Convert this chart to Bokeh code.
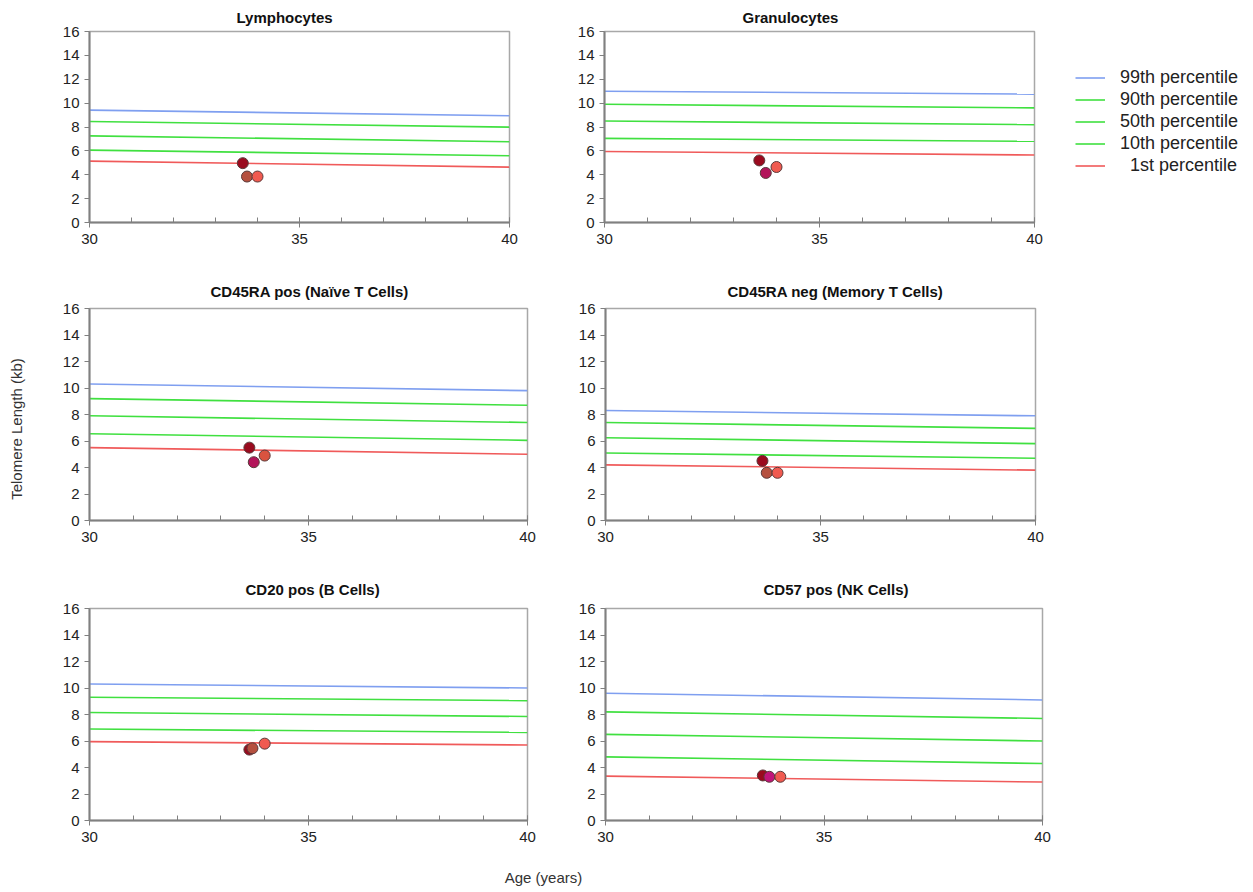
from bokeh.plotting import figure
from bokeh.layouts import column, row
from bokeh.models import Range1d, Legend, LegendItem, Label, FixedTicker
from bokeh.embed import file_html
from bokeh.resources import INLINE

FONT = "Liberation Sans"

# Cell populations, one panel each
panel_titles = [
    "Lymphocytes",
    "Granulocytes",
    "CD45RA pos (Naïve T Cells)",
    "CD45RA neg (Memory T Cells)",
    "CD20 pos (B Cells)",
    "CD57 pos (NK Cells)",
]

# Age span of the reference percentile lines (years)
line_ages = [30, 40]

# Percentile telomere lengths (kb) at age 30 and age 40, per panel
p99_at30 = [9.41, 11.00, 10.30, 8.30, 10.30, 9.60]
p99_at40 = [8.94, 10.75, 9.80, 7.90, 10.00, 9.10]
p90_at30 = [8.46, 9.90, 9.20, 7.40, 9.30, 8.20]
p90_at40 = [7.99, 9.60, 8.70, 6.95, 9.05, 7.70]
p50_at30 = [7.26, 8.50, 7.90, 6.25, 8.15, 6.50]
p50_at40 = [6.76, 8.20, 7.40, 5.80, 7.85, 6.00]
p10_at30 = [6.06, 7.05, 6.55, 5.10, 6.90, 4.80]
p10_at40 = [5.59, 6.80, 6.05, 4.70, 6.65, 4.30]
p1_at30 = [5.14, 5.95, 5.50, 4.20, 5.95, 3.35]
p1_at40 = [4.64, 5.65, 5.00, 3.80, 5.70, 2.90]

percentile_labels = ["99th percentile", "90th percentile", "50th percentile",
                     "10th percentile", "\u00a0\u00a01st percentile"]
percentile_colors = ["#7f9ff0", "#40e040", "#40e040", "#40e040", "#f05a5a"]
percentile_at30 = [p99_at30, p90_at30, p50_at30, p10_at30, p1_at30]
percentile_at40 = [p99_at40, p90_at40, p50_at40, p10_at40, p1_at40]

# Patient measurements: age at sampling and telomere length (kb), per panel
sample1_age = [33.65, 33.60, 33.65, 33.65, 33.65, 33.60]
sample1_tl = [4.97, 5.20, 5.50, 4.50, 5.35, 3.40]
sample2_age = [33.75, 33.75, 33.75, 33.75, 33.72, 33.75]
sample2_tl = [3.85, 4.15, 4.40, 3.60, 5.45, 3.30]
sample3_age = [34.00, 34.00, 34.00, 34.00, 34.00, 34.00]
sample3_tl = [3.85, 4.65, 4.90, 3.60, 5.80, 3.30]

sample1_color = "#9a0a1e"
sample2_colors = ["#b5503f", "#b3145a", "#b3145a", "#b5503f", "#b5503f", "#c0157a"]
sample3_colors = ["#f05a50", "#f05a50", "#d9533f", "#f05a50", "#f05a50", "#f05a50"]

# (width, height, border left, right, top, bottom) for each panel
geometry = [
    (500, 265, 49, 31, 31, 43),
    (524, 265, 64, 30, 31, 43),
    (520, 300, 49, 33, 43, 45),
    (693, 300, 45, 218, 43, 45),
    (520, 292, 49, 33, 43, 37),
    (693, 292, 45, 211, 43, 37),
]
# Title placement: offset from the frame's left edge and gap above the frame (px)
title_offset = [147, 138, 121, 122, 156, 158]
title_standoff = [11, 11, 18, 18, 21, 21]


def make_panel(i):
    w, h, bl, br, bt, bb = geometry[i]
    p = figure(width=w, height=h, x_range=Range1d(30, 40), y_range=Range1d(0, 16),
               output_backend="svg", toolbar_location=None,
               min_border_left=bl, min_border_right=br,
               min_border_top=bt, min_border_bottom=bb,
               title=panel_titles[i])
    p.background_fill_color = "white"
    p.border_fill_color = "white"
    p.outline_line_color = "#a8a8a8"
    p.outline_line_width = 1.5
    p.grid.visible = False

    p.title.align = "left"
    p.title.offset = title_offset[i]
    p.title.standoff = title_standoff[i]
    p.title.text_font = FONT
    p.title.text_font_size = "15px"
    p.title.text_font_style = "bold"
    p.title.text_color = "#111111"

    p.xaxis.ticker = FixedTicker(ticks=[30, 35, 40], minor_ticks=list(range(30, 41)))
    p.yaxis.ticker = FixedTicker(ticks=list(range(0, 17, 2)))
    for ax in (p.xaxis[0], p.yaxis[0]):
        ax.axis_line_color = "#808080"
        ax.axis_line_width = 2
        ax.major_tick_line_color = "#808080"
        ax.minor_tick_line_color = "#808080"
        ax.major_label_text_font = FONT
        ax.major_label_text_font_size = "15px"
        ax.major_label_text_color = "#222222"
    p.xaxis.major_tick_in = 5
    p.xaxis.major_tick_out = 5
    p.xaxis.minor_tick_in = 5
    p.xaxis.minor_tick_out = 0
    p.xaxis.major_label_standoff = 6
    p.yaxis.major_tick_in = 0
    p.yaxis.major_tick_out = 5
    p.yaxis.minor_tick_in = 0
    p.yaxis.minor_tick_out = 0
    p.yaxis.major_label_standoff = 5

    for k in range(5):
        p.line(line_ages, [percentile_at30[k][i], percentile_at40[k][i]],
               line_color=percentile_colors[k], line_width=1.6)

    marker_line = "#5a3a3a"
    p.scatter([sample1_age[i]], [sample1_tl[i]], marker="circle", size=11,
              fill_color=sample1_color, line_color=marker_line, line_width=1)
    p.scatter([sample2_age[i]], [sample2_tl[i]], marker="circle", size=11,
              fill_color=sample2_colors[i], line_color=marker_line, line_width=1)
    p.scatter([sample3_age[i]], [sample3_tl[i]], marker="circle", size=11,
              fill_color=sample3_colors[i], line_color=marker_line, line_width=1)
    return p


def blank(width, height, **borders):
    f = figure(width=width, height=height, x_range=Range1d(0, 1), y_range=Range1d(0, 1),
               output_backend="svg", toolbar_location=None,
               x_axis_type=None, y_axis_type=None, **borders)
    f.outline_line_color = None
    f.grid.visible = False
    f.background_fill_color = "white"
    f.border_fill_color = "white"
    return f


panels = [make_panel(i) for i in range(6)]

# Shared y-axis title in a narrow column on the left
ylab = blank(40, 857, min_border_left=26, min_border_right=0,
             min_border_top=0, min_border_bottom=0)
ylab.title.text = "Telomere Length (kb)"
ylab.title_location = "left"
ylab.title.align = "center"
ylab.title.standoff = 4
ylab.title.text_font = FONT
ylab.title.text_font_size = "15px"
ylab.title.text_font_style = "normal"
ylab.title.text_color = "#333333"

# Percentile legend in its own column to the right of the Granulocytes panel;
# the key lines hold no drawable points, they only supply the legend swatches
key = blank(189, 265, min_border_left=0, min_border_right=0,
            min_border_top=31, min_border_bottom=43)
key_lines = [key.line(x=[float("nan")], y=[float("nan")],
                      line_color=percentile_colors[k], line_width=1.6)
             for k in range(5)]
legend = Legend(
    items=[LegendItem(label=percentile_labels[k], renderers=[key_lines[k]]) for k in range(5)],
    location=(11, 46),
    orientation="vertical",
    border_line_color=None,
    background_fill_alpha=0,
    label_text_font=FONT,
    label_text_font_size="18px",
    label_text_color="#222222",
    glyph_width=30,
    glyph_height=21,
    label_height=21,
    label_standoff=15,
    spacing=1,
    padding=0,
    margin=0,
)
key.add_layout(legend)

# Shared x-axis title strip
strip = blank(1253, 35, min_border_left=0, min_border_right=0,
              min_border_top=0, min_border_bottom=0)
strip.add_layout(Label(x=543, y=15, x_units="screen", y_units="screen",
                       text="Age (years)", text_align="center", text_baseline="middle",
                       text_font=FONT, text_font_size="15px", text_color="#333333"))

layout = column(
    row(ylab, column(
        row(panels[0], panels[1], key),
        row(panels[2], panels[3]),
        row(panels[4], panels[5]),
    )),
    strip,
)

open("out.html", "w").write(file_html(layout, INLINE))
